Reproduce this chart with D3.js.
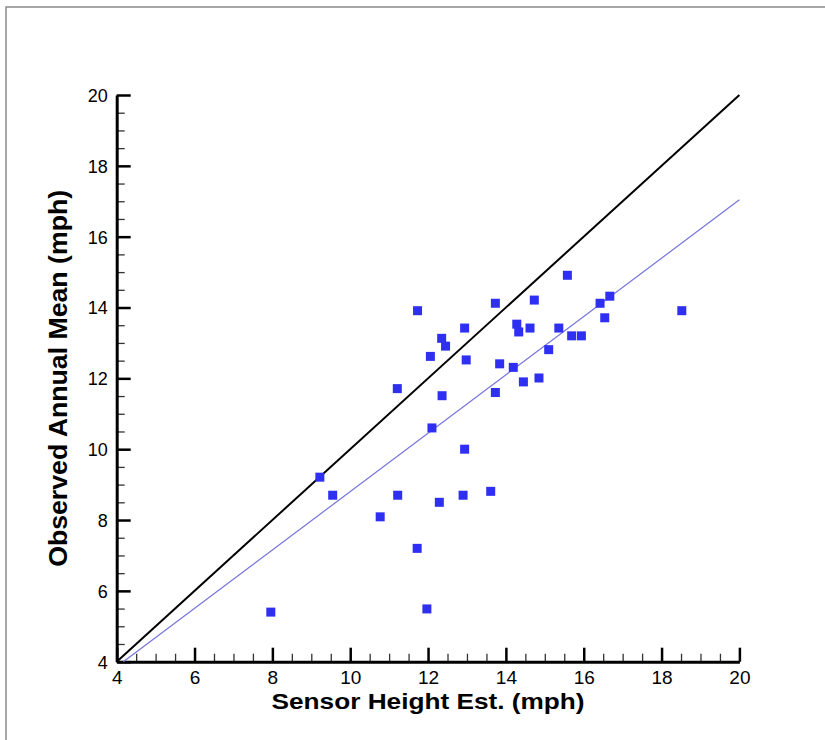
<!DOCTYPE html>
<html lang="en">
<head>
  <meta charset="UTF-8">
  <title>Observed vs Sensor Height Est.</title>
  <script src="https://d3js.org/d3.v7.min.js"></script>
  <style>
    body { margin: 0; background: #fff; }
    text { font-family: "Liberation Sans", Arial, Helvetica, sans-serif; }
  </style>
</head>
<body>
  <svg width="825" height="740"></svg>
<script>
  // data
  const sensorEst = [7.96, 9.22, 9.55, 10.77, 11.21, 11.22, 11.73, 11.72, 11.97, 12.06,
    12.10, 12.29, 12.35, 12.36, 12.45, 12.90, 12.94, 12.94, 12.98, 13.61,
    13.73, 13.73, 13.84, 14.19, 14.28, 14.33, 14.45, 14.62, 14.73, 14.85,
    15.10, 15.36, 15.58, 15.69, 15.94, 16.42, 16.54, 16.67, 18.52];
  const observedMean = [5.40, 9.21, 8.70, 8.09, 11.71, 8.70, 13.91, 7.20, 5.49, 12.62,
    10.60, 8.50, 13.13, 11.51, 12.91, 8.70, 13.42, 10.00, 12.52, 8.81,
    14.12, 11.60, 12.41, 12.31, 13.53, 13.31, 11.90, 13.42, 14.21, 12.01,
    12.81, 13.42, 14.91, 13.20, 13.20, 14.12, 13.71, 14.32, 13.91];
  const oneToOneX = [4, 20];
  const oneToOneY = [4, 20];
  const fitX = [4.17, 20];
  const fitY = [4, 17.04];
  const majorTicks = [4, 6, 8, 10, 12, 14, 16, 18, 20];
  const minorTicks = d3.range(4.5, 20, 0.5).filter(v => v % 2 !== 0);

  const svg = d3.select("svg");

  // grey frame (only top and left visible)
  svg.append("path")
    .attr("d", "M6,745 L6,7 L830,7")
    .attr("fill", "none")
    .attr("stroke", "#8a8a8a")
    .attr("stroke-width", 1.5);

  const x = d3.scaleLinear().domain([4, 20]).range([116.7, 739.4]);
  const y = d3.scaleLinear().domain([4, 20]).range([661.7, 95]);

  // minor ticks
  svg.append("g")
    .attr("transform", "translate(0," + y(4) + ")")
    .call(d3.axisBottom(x).tickValues(minorTicks).tickSize(-8).tickFormat(""))
    .call(g => g.select(".domain").remove())
    .selectAll("line").attr("stroke", "#333").attr("stroke-width", 1.3);
  svg.append("g")
    .attr("transform", "translate(" + x(4) + ",0)")
    .call(d3.axisLeft(y).tickValues(minorTicks).tickSize(-8).tickFormat(""))
    .call(g => g.select(".domain").remove())
    .selectAll("line").attr("stroke", "#333").attr("stroke-width", 1.3);

  // major ticks + labels
  const xAxis = svg.append("g")
    .attr("transform", "translate(0," + y(4) + ")")
    .call(d3.axisBottom(x).tickValues(majorTicks).tickSize(-14).tickSizeOuter(0).tickPadding(0));
  xAxis.select(".domain").attr("stroke", "#000").attr("stroke-width", 3);
  xAxis.selectAll(".tick line").attr("stroke", "#000").attr("stroke-width", 2.5);
  xAxis.selectAll(".tick text")
    .attr("y", 22.5)
    .attr("dy", 0)
    .attr("fill", "#000")
    .style("font-size", "19px");

  const yAxis = svg.append("g")
    .attr("transform", "translate(" + x(4) + ",0)")
    .call(d3.axisLeft(y).tickValues(majorTicks).tickSize(-14).tickSizeOuter(0).tickPadding(0));
  yAxis.select(".domain").attr("stroke", "#000").attr("stroke-width", 3);
  yAxis.selectAll(".tick line").attr("stroke", "#000").attr("stroke-width", 2.5);
  yAxis.selectAll(".tick text")
    .attr("x", -9)
    .attr("dy", "0.36em")
    .attr("fill", "#000")
    .style("font-size", "18px");

  // 1:1 line
  const line = d3.line().x(d => x(d[0])).y(d => y(d[1]));
  svg.append("path")
    .datum(d3.zip(oneToOneX, oneToOneY))
    .attr("d", line)
    .attr("fill", "none")
    .attr("stroke", "#000")
    .attr("stroke-width", 2);

  // fitted line
  svg.append("path")
    .datum(d3.zip(fitX, fitY))
    .attr("d", line)
    .attr("fill", "none")
    .attr("stroke", "#7373dc")
    .attr("stroke-width", 1.2);

  // points
  const s = 9;
  svg.append("g")
    .selectAll("rect")
    .data(d3.zip(sensorEst, observedMean))
    .join("rect")
    .attr("x", d => x(d[0]) - s / 2)
    .attr("y", d => y(d[1]) - s / 2)
    .attr("width", s)
    .attr("height", s)
    .attr("fill", "#2f2ff2");

  // axis titles
  svg.append("text")
    .attr("x", (x(4) + x(20)) / 2)
    .attr("y", 709)
    .attr("text-anchor", "middle")
    .attr("font-weight", "bold")
    .attr("textLength", 313)
    .attr("lengthAdjust", "spacingAndGlyphs")
    .style("font-size", "22px")
    .text("Sensor Height Est. (mph)");

  svg.append("text")
    .attr("transform", "translate(67," + (y(4) + y(20)) / 2 + ") rotate(-90)")
    .attr("text-anchor", "middle")
    .attr("font-weight", "bold")
    .attr("textLength", 377)
    .attr("lengthAdjust", "spacingAndGlyphs")
    .style("font-size", "25px")
    .text("Observed Annual Mean (mph)");
</script>
</body>
</html>
